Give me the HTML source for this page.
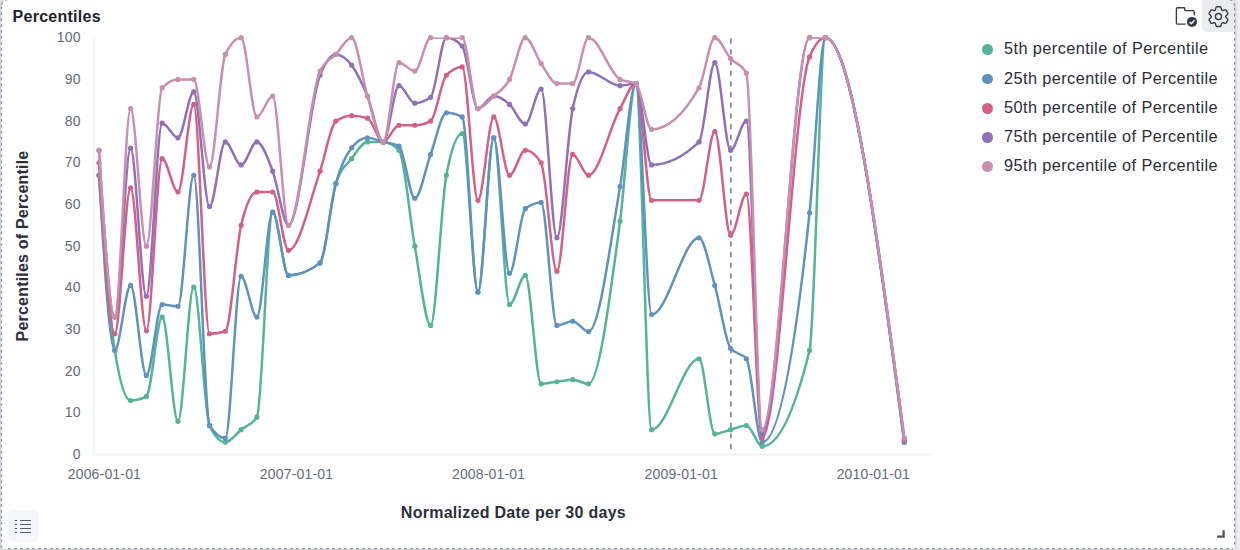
<!DOCTYPE html>
<html><head><meta charset="utf-8"><title>Percentiles</title>
<style>
html,body{margin:0;padding:0;}
body{width:1240px;height:550px;overflow:hidden;background:#efeff1;font-family:"Liberation Sans",sans-serif;position:relative;}
.panel{position:absolute;left:1px;top:-1px;width:1234.2px;height:550.1px;background:#fff;box-shadow:0 0 2.5px 0.3px rgba(60,65,80,0.22);border-radius:7px 7px 0 0;}
.title{position:absolute;left:12.6px;top:6.8px;font-size:16px;font-weight:700;color:#1f222c;letter-spacing:0.26px;line-height:20px;white-space:nowrap;}
.chart{position:absolute;left:0;top:0;}
.tick text{font-size:14px;fill:#656c79;letter-spacing:0.17px;}
.atitle{font-size:16px;font-weight:700;fill:#2d303b;letter-spacing:0.27px;}
.ytitle{letter-spacing:0.2px;}
.li{position:absolute;left:982px;height:24px;white-space:nowrap;}
.dot{position:absolute;left:0.3px;top:6.6px;width:10.8px;height:10.8px;border-radius:50%;}
.lt{position:absolute;left:22px;top:-1.4px;font-size:16.3px;line-height:24px;color:#2b2e39;letter-spacing:0.42px;}
.gearbg{position:absolute;left:1202px;top:0;width:33px;height:32px;background:#e9ebef;border-radius:0 6px 0 5px;}
.legbtn{position:absolute;left:7px;top:510px;width:32px;height:32px;background:#f5f7fc;border-radius:6px;}
.icons{position:absolute;left:0;top:0;}
</style></head><body>
<div class="panel"></div>
<div class="gearbg"></div>
<div class="legbtn"></div>
<div class="title">Percentiles</div>
<svg class="chart" width="1240" height="550" viewBox="0 0 1240 550">
<defs><clipPath id="cp"><rect x="94" y="37.5" width="845" height="420"/></clipPath></defs>
<line x1="94.05" y1="38.2" x2="94.05" y2="455.2" stroke="#eff1f5" stroke-width="1.6"/>
<line x1="93.25" y1="454.5" x2="933" y2="454.5" stroke="#eff1f5" stroke-width="1.6"/>
<line x1="730.9" y1="38.6" x2="730.9" y2="449.5" stroke="#727b87" stroke-width="1.5" stroke-dasharray="5.2 5.47"/>
<g>
<path clip-path="url(#cp)" d="M99.00,175.31C104.26,246.20,109.53,317.09,114.79,350.45C120.05,383.81,125.32,400.49,130.58,400.49C135.84,400.49,141.11,399.10,146.37,396.32C151.63,393.54,156.90,317.09,162.16,317.09C167.42,317.09,172.69,421.34,177.95,421.34C183.21,421.34,188.48,287.07,193.74,287.07C199.00,287.07,204.27,414.39,209.53,425.51C214.79,436.63,220.06,442.19,225.32,442.19C230.58,442.19,235.85,433.85,241.11,429.68C246.37,425.51,251.64,425.51,256.90,417.17C262.16,408.83,267.43,212.01,272.69,212.01C277.95,212.01,283.22,275.39,288.48,275.39C299.01,275.39,309.53,271.22,320.06,262.88C325.32,258.71,330.59,200.33,335.85,183.65C341.11,166.97,346.38,165.58,351.64,158.63C356.90,151.68,362.17,141.95,367.43,141.95C372.69,141.95,377.96,141.95,383.22,141.95C388.48,141.95,393.75,144.73,399.01,150.29C404.27,155.85,409.54,217.01,414.80,246.20C420.06,275.39,425.33,325.43,430.59,325.43C435.85,325.43,441.12,203.11,446.38,175.31C451.64,147.51,456.91,133.61,462.17,133.61C467.43,133.61,472.70,292.07,477.96,292.07C483.22,292.07,488.49,137.78,493.75,137.78C499.01,137.78,504.28,304.58,509.54,304.58C514.80,304.58,520.07,275.39,525.33,275.39C530.59,275.39,535.86,383.81,541.12,383.81C546.38,383.81,551.65,382.42,556.91,381.73C562.17,381.03,567.44,379.64,572.70,379.64C577.96,379.64,583.23,383.81,588.49,383.81C599.02,383.81,609.54,300.41,620.07,221.18C625.33,181.56,630.60,83.57,635.86,83.57C641.12,83.57,646.39,429.68,651.65,429.68C667.44,429.68,683.23,358.79,699.02,358.79C704.28,358.79,709.55,433.85,714.81,433.85C720.07,433.85,725.34,431.07,730.60,429.68C735.86,428.29,741.13,425.51,746.39,425.51C751.65,425.51,756.92,446.36,762.18,446.36C777.97,446.36,793.76,414.39,809.55,350.45C814.81,329.14,820.08,37.70,825.34,37.70C851.66,37.70,877.97,239.94,904.29,442.19" fill="none" stroke="#54B399" stroke-width="2.5" stroke-linejoin="round" stroke-linecap="round"/>
<g fill="#54B399"><circle cx="99.00" cy="175.31" r="2.6"/><circle cx="114.79" cy="350.45" r="2.6"/><circle cx="130.58" cy="400.49" r="2.6"/><circle cx="146.37" cy="396.32" r="2.6"/><circle cx="162.16" cy="317.09" r="2.6"/><circle cx="177.95" cy="421.34" r="2.6"/><circle cx="193.74" cy="287.07" r="2.6"/><circle cx="209.53" cy="425.51" r="2.6"/><circle cx="225.32" cy="442.19" r="2.6"/><circle cx="241.11" cy="429.68" r="2.6"/><circle cx="256.90" cy="417.17" r="2.6"/><circle cx="272.69" cy="212.01" r="2.6"/><circle cx="288.48" cy="275.39" r="2.6"/><circle cx="320.06" cy="262.88" r="2.6"/><circle cx="335.85" cy="183.65" r="2.6"/><circle cx="351.64" cy="158.63" r="2.6"/><circle cx="367.43" cy="141.95" r="2.6"/><circle cx="383.22" cy="141.95" r="2.6"/><circle cx="399.01" cy="150.29" r="2.6"/><circle cx="414.80" cy="246.20" r="2.6"/><circle cx="430.59" cy="325.43" r="2.6"/><circle cx="446.38" cy="175.31" r="2.6"/><circle cx="462.17" cy="133.61" r="2.6"/><circle cx="477.96" cy="292.07" r="2.6"/><circle cx="493.75" cy="137.78" r="2.6"/><circle cx="509.54" cy="304.58" r="2.6"/><circle cx="525.33" cy="275.39" r="2.6"/><circle cx="541.12" cy="383.81" r="2.6"/><circle cx="556.91" cy="381.73" r="2.6"/><circle cx="572.70" cy="379.64" r="2.6"/><circle cx="588.49" cy="383.81" r="2.6"/><circle cx="620.07" cy="221.18" r="2.6"/><circle cx="635.86" cy="83.57" r="2.6"/><circle cx="651.65" cy="429.68" r="2.6"/><circle cx="699.02" cy="358.79" r="2.6"/><circle cx="714.81" cy="433.85" r="2.6"/><circle cx="730.60" cy="429.68" r="2.6"/><circle cx="746.39" cy="425.51" r="2.6"/><circle cx="762.18" cy="446.36" r="2.6"/><circle cx="809.55" cy="350.45" r="2.6"/><circle cx="825.34" cy="37.70" r="2.6"/><circle cx="904.29" cy="442.19" r="2.6"/></g>
<path clip-path="url(#cp)" d="M99.00,175.31C104.26,262.88,109.53,350.45,114.79,350.45C120.05,350.45,125.32,285.40,130.58,285.40C135.84,285.40,141.11,375.47,146.37,375.47C151.63,375.47,156.90,304.58,162.16,304.58C167.42,304.58,172.69,306.25,177.95,306.25C183.21,306.25,188.48,175.31,193.74,175.31C199.00,175.31,204.27,417.17,209.53,425.51C214.79,433.85,220.06,438.02,225.32,438.02C230.58,438.02,235.85,276.43,241.11,276.43C246.37,276.43,251.64,317.09,256.90,317.09C262.16,317.09,267.43,212.01,272.69,212.01C277.95,212.01,283.22,275.39,288.48,275.39C299.01,275.39,309.53,271.22,320.06,262.88C325.32,258.71,330.59,202.83,335.85,183.65C341.11,164.47,346.38,154.46,351.64,147.79C356.90,141.12,362.17,137.78,367.43,137.78C372.69,137.78,377.96,140.56,383.22,141.95C388.48,143.34,393.75,143.34,399.01,146.12C404.27,148.90,409.54,198.25,414.80,198.25C420.06,198.25,425.33,168.71,430.59,154.46C435.85,140.21,441.12,112.76,446.38,112.76C451.64,112.76,456.91,114.15,462.17,116.93C467.43,119.71,472.70,292.07,477.96,292.07C483.22,292.07,488.49,137.78,493.75,137.78C499.01,137.78,504.28,273.30,509.54,273.30C514.80,273.30,520.07,212.84,525.33,208.67C530.59,204.50,535.86,202.41,541.12,202.41C546.38,202.41,551.65,325.43,556.91,325.43C562.17,325.43,567.44,321.26,572.70,321.26C577.96,321.26,583.23,331.69,588.49,331.69C599.02,331.69,609.54,248.47,620.07,186.57C625.33,155.62,630.60,83.57,635.86,83.57C641.12,83.57,646.39,314.59,651.65,314.59C667.44,314.59,683.23,237.86,699.02,237.86C704.28,237.86,709.55,266.98,714.81,285.40C720.07,303.82,725.34,341.42,730.60,348.37C735.86,355.31,741.13,351.84,746.39,358.79C751.65,365.74,756.92,442.19,762.18,442.19C777.97,442.19,793.76,363.31,809.55,212.84C814.81,162.68,820.08,37.70,825.34,37.70C851.66,37.70,877.97,239.94,904.29,442.19" fill="none" stroke="#6092C0" stroke-width="2.5" stroke-linejoin="round" stroke-linecap="round"/>
<g fill="#6092C0"><circle cx="99.00" cy="175.31" r="2.6"/><circle cx="114.79" cy="350.45" r="2.6"/><circle cx="130.58" cy="285.40" r="2.6"/><circle cx="146.37" cy="375.47" r="2.6"/><circle cx="162.16" cy="304.58" r="2.6"/><circle cx="177.95" cy="306.25" r="2.6"/><circle cx="193.74" cy="175.31" r="2.6"/><circle cx="209.53" cy="425.51" r="2.6"/><circle cx="225.32" cy="438.02" r="2.6"/><circle cx="241.11" cy="276.43" r="2.6"/><circle cx="256.90" cy="317.09" r="2.6"/><circle cx="272.69" cy="212.01" r="2.6"/><circle cx="288.48" cy="275.39" r="2.6"/><circle cx="320.06" cy="262.88" r="2.6"/><circle cx="335.85" cy="183.65" r="2.6"/><circle cx="351.64" cy="147.79" r="2.6"/><circle cx="367.43" cy="137.78" r="2.6"/><circle cx="383.22" cy="141.95" r="2.6"/><circle cx="399.01" cy="146.12" r="2.6"/><circle cx="414.80" cy="198.25" r="2.6"/><circle cx="430.59" cy="154.46" r="2.6"/><circle cx="446.38" cy="112.76" r="2.6"/><circle cx="462.17" cy="116.93" r="2.6"/><circle cx="477.96" cy="292.07" r="2.6"/><circle cx="493.75" cy="137.78" r="2.6"/><circle cx="509.54" cy="273.30" r="2.6"/><circle cx="525.33" cy="208.67" r="2.6"/><circle cx="541.12" cy="202.41" r="2.6"/><circle cx="556.91" cy="325.43" r="2.6"/><circle cx="572.70" cy="321.26" r="2.6"/><circle cx="588.49" cy="331.69" r="2.6"/><circle cx="620.07" cy="186.57" r="2.6"/><circle cx="635.86" cy="83.57" r="2.6"/><circle cx="651.65" cy="314.59" r="2.6"/><circle cx="699.02" cy="237.86" r="2.6"/><circle cx="714.81" cy="285.40" r="2.6"/><circle cx="730.60" cy="348.37" r="2.6"/><circle cx="746.39" cy="358.79" r="2.6"/><circle cx="762.18" cy="442.19" r="2.6"/><circle cx="809.55" cy="212.84" r="2.6"/><circle cx="825.34" cy="37.70" r="2.6"/><circle cx="904.29" cy="442.19" r="2.6"/></g>
<path clip-path="url(#cp)" d="M99.00,162.80C104.26,248.29,109.53,333.77,114.79,333.77C120.05,333.77,125.32,187.82,130.58,187.82C135.84,187.82,141.11,330.85,146.37,330.85C151.63,330.85,156.90,158.63,162.16,158.63C167.42,158.63,172.69,191.99,177.95,191.99C183.21,191.99,188.48,104.42,193.74,104.42C199.00,104.42,204.27,333.77,209.53,333.77C214.79,333.77,220.06,332.94,225.32,331.27C230.58,329.60,235.85,247.59,241.11,225.35C246.37,203.11,251.64,191.99,256.90,191.99C262.16,191.99,267.43,191.99,272.69,191.99C277.95,191.99,283.22,250.37,288.48,250.37C299.01,250.37,309.53,202.18,320.06,171.14C325.32,155.62,330.59,124.71,335.85,121.10C341.11,117.49,346.38,115.68,351.64,115.68C356.90,115.68,362.17,116.51,367.43,118.18C372.69,119.85,377.96,141.95,383.22,141.95C388.48,141.95,393.75,125.27,399.01,125.27C404.27,125.27,409.54,125.27,414.80,125.27C420.06,125.27,425.33,123.88,430.59,121.10C435.85,118.32,441.12,80.79,446.38,75.23C451.64,69.67,456.91,66.89,462.17,66.89C467.43,66.89,472.70,200.33,477.96,200.33C483.22,200.33,488.49,116.93,493.75,116.93C499.01,116.93,504.28,175.31,509.54,175.31C514.80,175.31,520.07,150.29,525.33,150.29C530.59,150.29,535.86,154.46,541.12,162.80C546.38,171.14,551.65,271.22,556.91,271.22C562.17,271.22,567.44,154.46,572.70,154.46C577.96,154.46,583.23,175.31,588.49,175.31C599.02,175.31,609.54,127.12,620.07,108.59C625.33,99.32,630.60,83.57,635.86,83.57C641.12,83.57,646.39,200.33,651.65,200.33C667.44,200.33,683.23,200.33,699.02,200.33C704.28,200.33,709.55,131.52,714.81,131.52C720.07,131.52,725.34,235.36,730.60,235.36C735.86,235.36,741.13,194.07,746.39,194.07C751.65,194.07,756.92,438.02,762.18,438.02C777.97,438.02,793.76,95.25,809.55,56.88C814.81,44.09,820.08,37.70,825.34,37.70C851.66,37.70,877.97,238.90,904.29,440.11" fill="none" stroke="#D36086" stroke-width="2.5" stroke-linejoin="round" stroke-linecap="round"/>
<g fill="#D36086"><circle cx="99.00" cy="162.80" r="2.6"/><circle cx="114.79" cy="333.77" r="2.6"/><circle cx="130.58" cy="187.82" r="2.6"/><circle cx="146.37" cy="330.85" r="2.6"/><circle cx="162.16" cy="158.63" r="2.6"/><circle cx="177.95" cy="191.99" r="2.6"/><circle cx="193.74" cy="104.42" r="2.6"/><circle cx="209.53" cy="333.77" r="2.6"/><circle cx="225.32" cy="331.27" r="2.6"/><circle cx="241.11" cy="225.35" r="2.6"/><circle cx="256.90" cy="191.99" r="2.6"/><circle cx="272.69" cy="191.99" r="2.6"/><circle cx="288.48" cy="250.37" r="2.6"/><circle cx="320.06" cy="171.14" r="2.6"/><circle cx="335.85" cy="121.10" r="2.6"/><circle cx="351.64" cy="115.68" r="2.6"/><circle cx="367.43" cy="118.18" r="2.6"/><circle cx="383.22" cy="141.95" r="2.6"/><circle cx="399.01" cy="125.27" r="2.6"/><circle cx="414.80" cy="125.27" r="2.6"/><circle cx="430.59" cy="121.10" r="2.6"/><circle cx="446.38" cy="75.23" r="2.6"/><circle cx="462.17" cy="66.89" r="2.6"/><circle cx="477.96" cy="200.33" r="2.6"/><circle cx="493.75" cy="116.93" r="2.6"/><circle cx="509.54" cy="175.31" r="2.6"/><circle cx="525.33" cy="150.29" r="2.6"/><circle cx="541.12" cy="162.80" r="2.6"/><circle cx="556.91" cy="271.22" r="2.6"/><circle cx="572.70" cy="154.46" r="2.6"/><circle cx="588.49" cy="175.31" r="2.6"/><circle cx="620.07" cy="108.59" r="2.6"/><circle cx="635.86" cy="83.57" r="2.6"/><circle cx="651.65" cy="200.33" r="2.6"/><circle cx="699.02" cy="200.33" r="2.6"/><circle cx="714.81" cy="131.52" r="2.6"/><circle cx="730.60" cy="235.36" r="2.6"/><circle cx="746.39" cy="194.07" r="2.6"/><circle cx="762.18" cy="438.02" r="2.6"/><circle cx="809.55" cy="56.88" r="2.6"/><circle cx="825.34" cy="37.70" r="2.6"/><circle cx="904.29" cy="440.11" r="2.6"/></g>
<path clip-path="url(#cp)" d="M99.00,150.29C104.26,233.69,109.53,317.09,114.79,317.09C120.05,317.09,125.32,148.20,130.58,148.20C135.84,148.20,141.11,296.24,146.37,296.24C151.63,296.24,156.90,123.19,162.16,123.19C167.42,123.19,172.69,137.78,177.95,137.78C183.21,137.78,188.48,91.91,193.74,91.91C199.00,91.91,204.27,206.58,209.53,206.58C214.79,206.58,220.06,141.95,225.32,141.95C230.58,141.95,235.85,164.88,241.11,164.88C246.37,164.88,251.64,141.95,256.90,141.95C262.16,141.95,267.43,157.24,272.69,171.14C277.95,185.04,283.22,225.35,288.48,225.35C299.01,225.35,309.53,101.18,320.06,75.23C325.32,62.26,330.59,54.38,335.85,54.38C341.11,54.38,346.38,58.27,351.64,65.22C356.90,72.17,362.17,83.29,367.43,96.08C372.69,108.87,377.96,141.95,383.22,141.95C388.48,141.95,393.75,85.65,399.01,85.65C404.27,85.65,409.54,103.17,414.80,103.17C420.06,103.17,425.33,101.22,430.59,97.33C435.85,93.44,441.12,37.70,446.38,37.70C451.64,37.70,456.91,40.48,462.17,46.04C467.43,51.60,472.70,108.59,477.96,108.59C483.22,108.59,488.49,96.08,493.75,96.08C499.01,96.08,504.28,99.76,509.54,104.42C514.80,109.08,520.07,124.02,525.33,124.02C530.59,124.02,535.86,88.99,541.12,88.99C546.38,88.99,551.65,237.86,556.91,237.86C562.17,237.86,567.44,133.05,572.70,108.59C577.96,84.13,583.23,71.89,588.49,71.89C599.02,71.89,609.54,85.65,620.07,85.65C625.33,85.65,630.60,83.57,635.86,83.57C641.12,83.57,646.39,164.88,651.65,164.88C667.44,164.88,683.23,157.24,699.02,141.95C704.28,136.85,709.55,62.72,714.81,62.72C720.07,62.72,725.34,150.29,730.60,150.29C735.86,150.29,741.13,121.10,746.39,121.10C751.65,121.10,756.92,433.85,762.18,433.85C777.97,433.85,793.76,37.70,809.55,37.70C814.81,37.70,820.08,37.70,825.34,37.70C851.66,37.70,877.97,237.86,904.29,438.02" fill="none" stroke="#9170B8" stroke-width="2.5" stroke-linejoin="round" stroke-linecap="round"/>
<g fill="#9170B8"><circle cx="99.00" cy="150.29" r="2.6"/><circle cx="114.79" cy="317.09" r="2.6"/><circle cx="130.58" cy="148.20" r="2.6"/><circle cx="146.37" cy="296.24" r="2.6"/><circle cx="162.16" cy="123.19" r="2.6"/><circle cx="177.95" cy="137.78" r="2.6"/><circle cx="193.74" cy="91.91" r="2.6"/><circle cx="209.53" cy="206.58" r="2.6"/><circle cx="225.32" cy="141.95" r="2.6"/><circle cx="241.11" cy="164.88" r="2.6"/><circle cx="256.90" cy="141.95" r="2.6"/><circle cx="272.69" cy="171.14" r="2.6"/><circle cx="288.48" cy="225.35" r="2.6"/><circle cx="320.06" cy="75.23" r="2.6"/><circle cx="335.85" cy="54.38" r="2.6"/><circle cx="351.64" cy="65.22" r="2.6"/><circle cx="367.43" cy="96.08" r="2.6"/><circle cx="383.22" cy="141.95" r="2.6"/><circle cx="399.01" cy="85.65" r="2.6"/><circle cx="414.80" cy="103.17" r="2.6"/><circle cx="430.59" cy="97.33" r="2.6"/><circle cx="446.38" cy="37.70" r="2.6"/><circle cx="462.17" cy="46.04" r="2.6"/><circle cx="477.96" cy="108.59" r="2.6"/><circle cx="493.75" cy="96.08" r="2.6"/><circle cx="509.54" cy="104.42" r="2.6"/><circle cx="525.33" cy="124.02" r="2.6"/><circle cx="541.12" cy="88.99" r="2.6"/><circle cx="556.91" cy="237.86" r="2.6"/><circle cx="572.70" cy="108.59" r="2.6"/><circle cx="588.49" cy="71.89" r="2.6"/><circle cx="620.07" cy="85.65" r="2.6"/><circle cx="635.86" cy="83.57" r="2.6"/><circle cx="651.65" cy="164.88" r="2.6"/><circle cx="699.02" cy="141.95" r="2.6"/><circle cx="714.81" cy="62.72" r="2.6"/><circle cx="730.60" cy="150.29" r="2.6"/><circle cx="746.39" cy="121.10" r="2.6"/><circle cx="762.18" cy="433.85" r="2.6"/><circle cx="809.55" cy="37.70" r="2.6"/><circle cx="825.34" cy="37.70" r="2.6"/><circle cx="904.29" cy="438.02" r="2.6"/></g>
<path clip-path="url(#cp)" d="M99.00,150.29C104.26,233.69,109.53,317.09,114.79,317.09C120.05,317.09,125.32,108.59,130.58,108.59C135.84,108.59,141.11,246.20,146.37,246.20C151.63,246.20,156.90,93.30,162.16,87.74C167.42,82.18,172.69,79.40,177.95,79.40C183.21,79.40,188.48,79.40,193.74,79.40C199.00,79.40,204.27,166.97,209.53,166.97C214.79,166.97,220.06,65.50,225.32,54.38C230.58,43.26,235.85,37.70,241.11,37.70C246.37,37.70,251.64,116.93,256.90,116.93C262.16,116.93,267.43,96.08,272.69,96.08C277.95,96.08,283.22,225.35,288.48,225.35C299.01,225.35,309.53,93.30,320.06,71.06C325.32,59.94,330.59,59.94,335.85,54.38C341.11,48.82,346.38,37.70,351.64,37.70C356.90,37.70,362.17,78.70,367.43,96.08C372.69,113.45,377.96,141.95,383.22,141.95C388.48,141.95,393.75,62.72,399.01,62.72C404.27,62.72,409.54,71.06,414.80,71.06C420.06,71.06,425.33,37.70,430.59,37.70C435.85,37.70,441.12,37.70,446.38,37.70C451.64,37.70,456.91,37.70,462.17,37.70C467.43,37.70,472.70,108.59,477.96,108.59C483.22,108.59,488.49,100.94,493.75,96.08C499.01,91.21,504.28,89.13,509.54,79.40C514.80,69.67,520.07,37.70,525.33,37.70C530.59,37.70,535.86,55.91,541.12,63.55C546.38,71.20,551.65,83.57,556.91,83.57C562.17,83.57,567.44,83.57,572.70,83.57C577.96,83.57,583.23,37.70,588.49,37.70C599.02,37.70,609.54,73.84,620.07,79.40C625.33,82.18,630.60,80.79,635.86,83.57C641.12,86.35,646.39,129.44,651.65,129.44C667.44,129.44,683.23,115.54,699.02,87.74C704.28,78.47,709.55,37.70,714.81,37.70C720.07,37.70,725.34,52.64,730.60,58.55C735.86,64.46,741.13,63.41,746.39,73.14C751.65,82.87,756.92,429.68,762.18,429.68C777.97,429.68,793.76,37.70,809.55,37.70C814.81,37.70,820.08,37.70,825.34,37.70C851.66,37.70,877.97,237.86,904.29,438.02" fill="none" stroke="#CA8EAE" stroke-width="2.5" stroke-linejoin="round" stroke-linecap="round"/>
<g fill="#CA8EAE"><circle cx="99.00" cy="150.29" r="2.6"/><circle cx="114.79" cy="317.09" r="2.6"/><circle cx="130.58" cy="108.59" r="2.6"/><circle cx="146.37" cy="246.20" r="2.6"/><circle cx="162.16" cy="87.74" r="2.6"/><circle cx="177.95" cy="79.40" r="2.6"/><circle cx="193.74" cy="79.40" r="2.6"/><circle cx="209.53" cy="166.97" r="2.6"/><circle cx="225.32" cy="54.38" r="2.6"/><circle cx="241.11" cy="37.70" r="2.6"/><circle cx="256.90" cy="116.93" r="2.6"/><circle cx="272.69" cy="96.08" r="2.6"/><circle cx="288.48" cy="225.35" r="2.6"/><circle cx="320.06" cy="71.06" r="2.6"/><circle cx="335.85" cy="54.38" r="2.6"/><circle cx="351.64" cy="37.70" r="2.6"/><circle cx="367.43" cy="96.08" r="2.6"/><circle cx="383.22" cy="141.95" r="2.6"/><circle cx="399.01" cy="62.72" r="2.6"/><circle cx="414.80" cy="71.06" r="2.6"/><circle cx="430.59" cy="37.70" r="2.6"/><circle cx="446.38" cy="37.70" r="2.6"/><circle cx="462.17" cy="37.70" r="2.6"/><circle cx="477.96" cy="108.59" r="2.6"/><circle cx="493.75" cy="96.08" r="2.6"/><circle cx="509.54" cy="79.40" r="2.6"/><circle cx="525.33" cy="37.70" r="2.6"/><circle cx="541.12" cy="63.55" r="2.6"/><circle cx="556.91" cy="83.57" r="2.6"/><circle cx="572.70" cy="83.57" r="2.6"/><circle cx="588.49" cy="37.70" r="2.6"/><circle cx="620.07" cy="79.40" r="2.6"/><circle cx="635.86" cy="83.57" r="2.6"/><circle cx="651.65" cy="129.44" r="2.6"/><circle cx="699.02" cy="87.74" r="2.6"/><circle cx="714.81" cy="37.70" r="2.6"/><circle cx="730.60" cy="58.55" r="2.6"/><circle cx="746.39" cy="73.14" r="2.6"/><circle cx="762.18" cy="429.68" r="2.6"/><circle cx="809.55" cy="37.70" r="2.6"/><circle cx="825.34" cy="37.70" r="2.6"/><circle cx="904.29" cy="438.02" r="2.6"/></g>
</g>
<g class="tick" text-anchor="end">
<text x="80.6" y="459.10">0</text>
<text x="80.6" y="417.40">10</text>
<text x="80.6" y="375.70">20</text>
<text x="80.6" y="334.00">30</text>
<text x="80.6" y="292.30">40</text>
<text x="80.6" y="250.60">50</text>
<text x="80.6" y="208.90">60</text>
<text x="80.6" y="167.20">70</text>
<text x="80.6" y="125.50">80</text>
<text x="80.6" y="83.80">90</text>
<text x="80.6" y="42.10">100</text>
</g>
<g class="tick" text-anchor="middle">
<text x="104.4" y="479.2">2006-01-01</text>
<text x="296.5" y="479.2">2007-01-01</text>
<text x="488.6" y="479.2">2008-01-01</text>
<text x="681.2" y="479.2">2009-01-01</text>
<text x="873.3" y="479.2">2010-01-01</text>
</g>
<text class="atitle" text-anchor="middle" x="513.4" y="517.9">Normalized Date per 30 days</text>
<text class="atitle ytitle" text-anchor="middle" transform="translate(28,246) rotate(-90)">Percentiles of Percentile</text>
</svg>
<div class="li" style="top:37.6px"><span class="dot" style="background:#54B399"></span><span class="lt">5th percentile of Percentile</span></div>
<div class="li" style="top:67.1px"><span class="dot" style="background:#6092C0"></span><span class="lt">25th percentile of Percentile</span></div>
<div class="li" style="top:96.5px"><span class="dot" style="background:#D36086"></span><span class="lt">50th percentile of Percentile</span></div>
<div class="li" style="top:125.4px"><span class="dot" style="background:#9170B8"></span><span class="lt">75th percentile of Percentile</span></div>
<div class="li" style="top:154.4px"><span class="dot" style="background:#CA8EAE"></span><span class="lt">95th percentile of Percentile</span></div>

<svg class="icons" width="1240" height="550" viewBox="0 0 1240 550">
<g fill="none" stroke="#8792aa" stroke-width="1.25">
<path d="M1.5,6.4V548" stroke-dasharray="2.7 3.225"/>
<path d="M1.5,6 A6.5,6.5 0 0 1 8,-0.5" stroke-dasharray="2.7 3.2" stroke-dashoffset="-1.2"/>
<path d="M1228.1,-0.5 A6.5,6.5 0 0 1 1234.6,6" stroke-dasharray="2.7 3.2" stroke-dashoffset="-1.2"/>
<path d="M1234.6,7.8V548" stroke-dasharray="2.8 3.2"/>
<path d="M8,548.5H1233" stroke-dasharray="2.9 3.1"/>
</g>
<!-- folder -->
<path d="M1185.6,24.1 H1177.6 Q1176.4,24.1 1176.4,22.9 V8.9 Q1176.4,7.7 1177.6,7.7 H1184 Q1184.7,7.7 1184.7,8.4 V9.9 Q1184.7,10.6 1185.4,10.6 H1193 Q1194.2,10.6 1194.2,11.8 V15.6" fill="none" stroke="#3a3e4a" stroke-width="1.4" stroke-linecap="butt"/>
<circle cx="1192" cy="21.9" r="5" fill="#343741"/>
<path d="M1189.6,22 L1191.3,23.7 L1194.5,20.2" fill="none" stroke="#fff" stroke-width="1.4"/>
<!-- gear -->
<g fill="none" stroke="#3a3e4a" stroke-width="1.4" stroke-linejoin="round">
<circle cx="1218.5" cy="16.6" r="3.05"/>
<path d="M1222.05,10.46Q1221.72,10.27,1221.54,9.60L1220.95,7.43Q1220.77,6.76,1220.07,6.76L1216.93,6.76Q1216.23,6.76,1216.05,7.43L1215.46,9.60Q1215.28,10.27,1214.95,10.46L1214.95,10.46Q1214.63,10.65,1213.96,10.47L1211.79,9.89Q1211.11,9.71,1210.76,10.32L1209.19,13.04Q1208.84,13.65,1209.34,14.14L1210.92,15.73Q1211.41,16.23,1211.41,16.60L1211.41,16.60Q1211.41,16.97,1210.92,17.47L1209.34,19.06Q1208.84,19.55,1209.19,20.16L1210.76,22.88Q1211.11,23.49,1211.79,23.31L1213.96,22.73Q1214.63,22.55,1214.95,22.74L1214.95,22.74Q1215.28,22.93,1215.46,23.60L1216.05,25.77Q1216.23,26.44,1216.93,26.44L1220.07,26.44Q1220.77,26.44,1220.95,25.77L1221.54,23.60Q1221.72,22.93,1222.05,22.74L1222.05,22.74Q1222.37,22.55,1223.04,22.73L1225.21,23.31Q1225.89,23.49,1226.24,22.88L1227.81,20.16Q1228.16,19.55,1227.66,19.06L1226.08,17.47Q1225.59,16.97,1225.59,16.60L1225.59,16.60Q1225.59,16.23,1226.08,15.73L1227.66,14.14Q1228.16,13.65,1227.81,13.04L1226.24,10.32Q1225.89,9.71,1225.21,9.89L1223.04,10.47Q1222.37,10.65,1222.05,10.46Z"/>
</g>
<!-- legend toggle -->
<g stroke="#596070" stroke-width="1.2">
<path d="M14.8,520.5h2.4M20,520.5h11M14.8,524.5h2.4M20,524.5h11M14.8,528.5h2.4M20,528.5h11M14.8,532.5h2.4M20,532.5h11"/>
</g>
<!-- resize handle -->
<path d="M1223.6,530.2V536.6H1217.1" fill="none" stroke="#4b5364" stroke-width="2.3"/>
</svg>
</body></html>
